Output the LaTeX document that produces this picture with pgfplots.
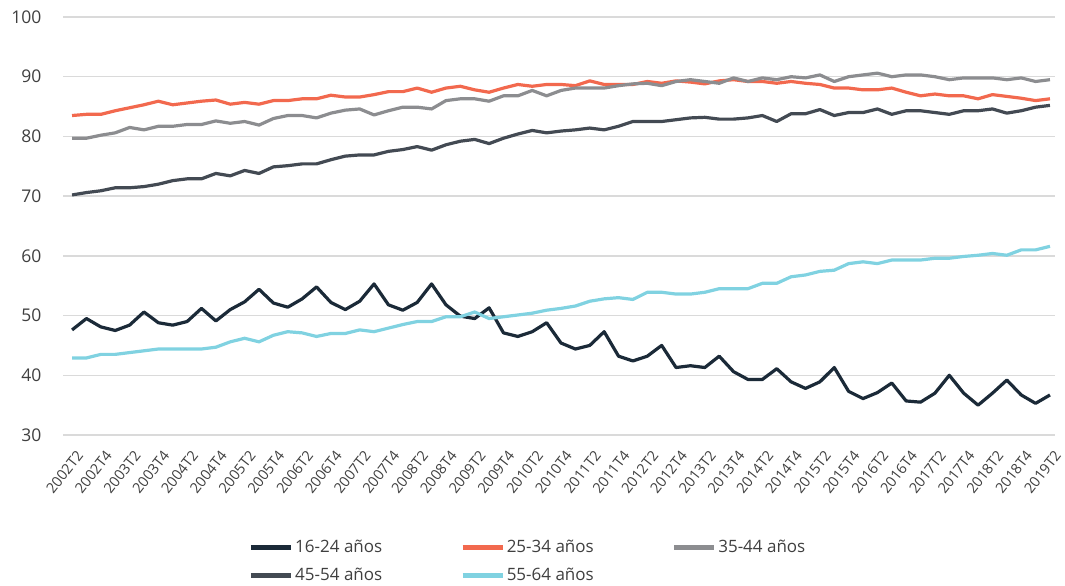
\documentclass[border=0pt]{standalone}
\usepackage{pgfplots}
\pgfplotsset{compat=1.18}
\usepackage{pgfplotstable}
\usepackage{fontspec}
\setmainfont{Open Sans}
\definecolor{cA}{HTML}{1B2A38}
\definecolor{cB}{HTML}{F2694E}
\definecolor{cC}{HTML}{8C8D90}
\definecolor{cD}{HTML}{434A53}
\definecolor{cE}{HTML}{80D2E1}
\definecolor{gridc}{HTML}{DADADA}
\definecolor{txt}{HTML}{3F3F3F}
\pgfplotstableread{
x a b c d e
0 47.6 83.5 79.7 70.2 42.9
1 49.5 83.7 79.7 70.6 42.9
2 48.1 83.7 80.2 70.9 43.5
3 47.5 84.3 80.6 71.4 43.5
4 48.4 84.8 81.5 71.4 43.8
5 50.6 85.3 81.1 71.6 44.1
6 48.8 85.9 81.7 72.0 44.4
7 48.4 85.3 81.7 72.6 44.4
8 49.0 85.6 82.0 72.9 44.4
9 51.2 85.9 82.0 72.9 44.4
10 49.1 86.1 82.6 73.8 44.7
11 51.0 85.4 82.2 73.4 45.6
12 52.3 85.7 82.5 74.3 46.2
13 54.4 85.4 81.9 73.8 45.6
14 52.1 86.0 83.0 74.9 46.7
15 51.4 86.0 83.5 75.1 47.3
16 52.8 86.3 83.5 75.4 47.1
17 54.8 86.3 83.1 75.4 46.5
18 52.2 86.9 83.9 76.1 47.0
19 51.0 86.6 84.4 76.7 47.0
20 52.4 86.6 84.6 76.9 47.6
21 55.3 87.0 83.6 76.9 47.3
22 51.8 87.5 84.3 77.5 47.9
23 50.9 87.5 84.9 77.8 48.5
24 52.2 88.1 84.9 78.3 49.0
25 55.3 87.4 84.6 77.7 49.0
26 51.8 88.1 86.0 78.6 49.8
27 49.9 88.4 86.3 79.2 49.8
28 49.5 87.8 86.3 79.5 50.6
29 51.3 87.4 85.9 78.8 49.5
30 47.1 88.1 86.8 79.7 49.8
31 46.5 88.7 86.8 80.4 50.1
32 47.3 88.4 87.7 81.0 50.4
33 48.8 88.7 86.8 80.6 50.9
34 45.4 88.7 87.7 80.9 51.2
35 44.4 88.5 88.1 81.1 51.6
36 45.0 89.3 88.1 81.4 52.4
37 47.3 88.7 88.1 81.1 52.8
38 43.2 88.7 88.5 81.7 53.0
39 42.4 88.7 88.8 82.5 52.7
40 43.2 89.2 88.9 82.5 53.9
41 45.0 88.9 88.5 82.5 53.9
42 41.3 89.3 89.2 82.8 53.6
43 41.6 89.1 89.5 83.1 53.6
44 41.3 88.8 89.2 83.2 53.9
45 43.2 89.3 88.9 82.9 54.5
46 40.6 89.5 89.8 82.9 54.5
47 39.3 89.2 89.2 83.1 54.5
48 39.3 89.2 89.8 83.5 55.4
49 41.1 88.9 89.5 82.5 55.4
50 38.9 89.2 90.0 83.8 56.5
51 37.8 88.9 89.8 83.8 56.8
52 38.9 88.7 90.3 84.5 57.4
53 41.3 88.1 89.2 83.5 57.6
54 37.3 88.1 90.0 84.0 58.7
55 36.1 87.8 90.3 84.0 59.0
56 37.1 87.8 90.6 84.6 58.7
57 38.7 88.1 90.0 83.7 59.3
58 35.7 87.4 90.3 84.3 59.3
59 35.5 86.8 90.3 84.3 59.3
60 37.0 87.1 90.0 84.0 59.6
61 40.0 86.8 89.5 83.7 59.6
62 37.0 86.8 89.8 84.3 59.9
63 35.0 86.3 89.8 84.3 60.1
64 37.0 87.0 89.8 84.6 60.4
65 39.2 86.7 89.5 83.9 60.1
66 36.7 86.4 89.8 84.3 61.0
67 35.3 86.0 89.2 84.9 61.0
68 36.7 86.3 89.5 85.2 61.6
}\data
\begin{document}
\begin{tikzpicture}
\path[use as bounding box] (0,0) rectangle (1065pt,586pt);
\begin{axis}[
  at={(63pt,151pt)}, anchor=south west,
  scale only axis, width=992pt, height=418pt,
  xmin=-0.63, xmax=68.35, ymin=30, ymax=100,
  axis line style={draw=none},
  major tick length=0pt,
  ytick={30,40,...,100},
  ymajorgrids, grid style={line width=1.4pt, draw=gridc},
  xtick={0,2,...,68},
  xticklabels={2002T2,2002T4,2003T2,2003T4,2004T2,2004T4,2005T2,2005T4,2006T2,2006T4,2007T2,2007T4,2008T2,2008T4,2009T2,2009T4,2010T2,2010T4,2011T2,2011T4,2012T2,2012T4,2013T2,2013T4,2014T2,2014T4,2015T2,2015T4,2016T2,2016T4,2017T2,2017T4,2018T2,2018T4,2019T2},
  /pgf/number format/assume math mode=true,
  yticklabel style={font=\fontsize{17.5}{18}\selectfont, text=txt, anchor=east, xshift=-18pt},
  xticklabel style={font=\fontsize{14.5}{15}\selectfont, text=txt, rotate=52, anchor=east, inner sep=1pt, xshift=-8pt, yshift=-17pt},
  legend style={at={(axis description cs:0.184,-0.242)}, anchor=north west, draw=none, fill=none,
    font=\fontsize{17}{20}\selectfont, text=txt, legend columns=3,
    /tikz/every even column/.append style={column sep=76pt}, row sep=10pt},
  legend cell align=left,
  legend image code/.code={\draw[#1, line width=4.5pt] (0pt,0pt) -- (40pt,0pt);},
  every axis plot/.append style={line width=3.2pt, line join=round, mark=none},
]
\addplot[cA] table[x=x,y=a] {\data};
\addlegendentry{16-24 años}
\addplot[cB] table[x=x,y=b] {\data};
\addlegendentry{25-34 años}
\addplot[cC] table[x=x,y=c] {\data};
\addlegendentry{35-44 años}
\addplot[cD] table[x=x,y=d] {\data};
\addlegendentry{45-54 años}
\addplot[cE] table[x=x,y=e] {\data};
\addlegendentry{55-64 años}
\end{axis}
\end{tikzpicture}
\end{document}
